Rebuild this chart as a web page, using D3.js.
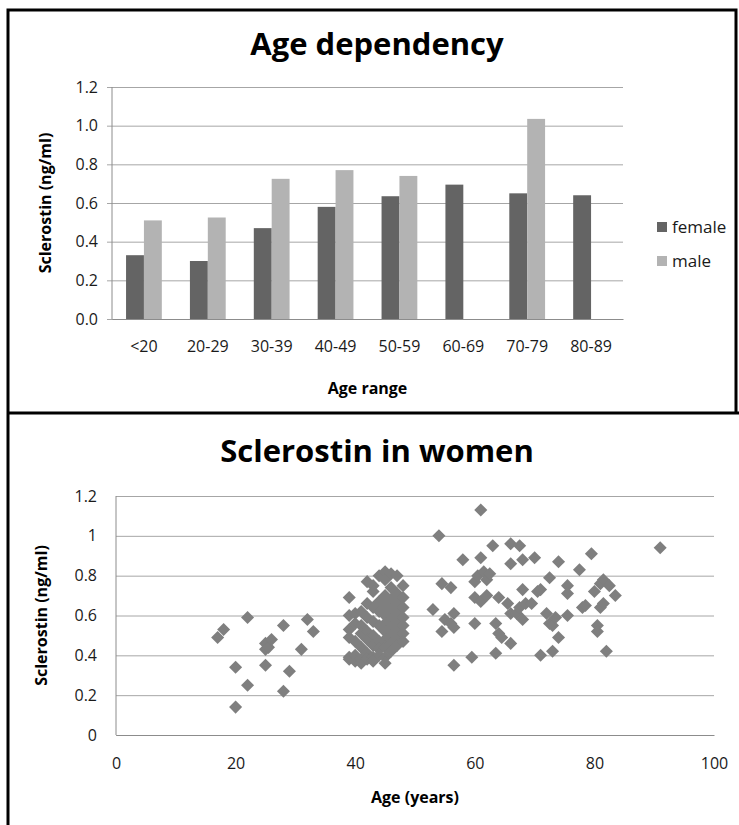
<!DOCTYPE html>
<html>
<head>
<meta charset="utf-8">
<script src="https://cdn.jsdelivr.net/npm/d3@7"></script>
<style>
  body { margin: 0; background: #fff; }
  svg text { font-family: "Open Sans", "DejaVu Sans", sans-serif; }
</style>
</head>
<body>
<svg class="chart" width="739" height="825"></svg>
<script>

/*
* Sclerostin figure: bar chart by age range and scatter for women.
*/

// Bar chart data.
var ageRanges = ["<20", "20-29", "30-39", "40-49", "50-59", "60-69", "70-79", "80-89"];
var femaleValues = [0.33, 0.30, 0.47, 0.58, 0.635, 0.695, 0.65, 0.64];
var maleValues = [0.51, 0.525, 0.725, 0.77, 0.74, null, 1.035, null];
var barTicks = [0, 0.2, 0.4, 0.6, 0.8, 1.0, 1.2];

// Scatter data (women): age in years and sclerostin in ng/ml.
var womenAge = [
  17, 18, 20, 20, 22, 22, 25, 25, 25, 25.5, 26, 28, 28, 29, 31, 32, 33,
  39, 39, 39, 39, 39, 39, 40, 40, 40, 40, 40,
  41, 41, 41, 41, 41, 41, 42, 42, 42, 42, 42, 42, 42,
  43, 43, 43, 43, 43, 43, 43, 43, 44, 44, 44, 44, 44, 44, 44,
  45, 45, 45, 45, 45, 45, 45, 45, 45, 45, 45,
  46, 46, 46, 46, 46, 46, 46, 46, 46, 47, 47, 47, 47, 47, 47, 47, 47,
  48, 48, 48, 48, 48, 48, 48,
  53, 54, 54.5, 54.5, 55, 56, 56, 56.5, 56.5, 56.5, 58, 59.5, 60, 60, 60, 60.5,
  61, 61, 61, 61.5, 62, 62, 62.5, 63, 63.5, 63.5, 64, 64, 64.5, 65.5,
  66, 66, 66, 66, 67, 67.5, 67.5, 68, 68, 68, 68.5, 69.5, 70, 70.5, 71, 71,
  72, 72.5, 72.5, 73, 73, 73.5, 74, 74, 75.5, 75.5, 75.5, 77.5, 78, 78.5,
  79.5, 80, 80.5, 80.5, 81, 81, 81.5, 81.5, 82, 82.5, 83.5, 91
];
var womenSclerostin = [
  0.49, 0.53, 0.34, 0.14, 0.59, 0.25, 0.35, 0.43, 0.46, 0.44, 0.48, 0.55, 0.22, 0.32, 0.43, 0.58, 0.52,
  0.69, 0.60, 0.53, 0.49, 0.39, 0.38, 0.61, 0.56, 0.47, 0.40, 0.37,
  0.62, 0.55, 0.51, 0.44, 0.38, 0.36, 0.77, 0.66, 0.59, 0.52, 0.48, 0.41, 0.38,
  0.75, 0.72, 0.64, 0.57, 0.50, 0.45, 0.39, 0.37, 0.80, 0.67, 0.62, 0.55, 0.47, 0.43, 0.40,
  0.82, 0.78, 0.70, 0.65, 0.60, 0.56, 0.52, 0.48, 0.44, 0.39, 0.36,
  0.81, 0.74, 0.68, 0.63, 0.58, 0.54, 0.50, 0.46, 0.42, 0.80, 0.71, 0.66, 0.61, 0.57, 0.53, 0.49, 0.45,
  0.75, 0.69, 0.64, 0.59, 0.55, 0.51, 0.47,
  0.63, 1.00, 0.76, 0.52, 0.58, 0.74, 0.56, 0.61, 0.54, 0.35, 0.88, 0.39, 0.69, 0.56, 0.77, 0.80,
  1.13, 0.89, 0.67, 0.82, 0.70, 0.78, 0.81, 0.95, 0.56, 0.41, 0.51, 0.69, 0.49, 0.66,
  0.96, 0.86, 0.46, 0.61, 0.61, 0.95, 0.64, 0.88, 0.73, 0.58, 0.66, 0.66, 0.89, 0.72, 0.73, 0.40,
  0.61, 0.79, 0.56, 0.55, 0.42, 0.59, 0.87, 0.49, 0.75, 0.71, 0.60, 0.83, 0.64, 0.65,
  0.91, 0.72, 0.55, 0.52, 0.76, 0.64, 0.78, 0.66, 0.42, 0.75, 0.70, 0.94
];
var scatterXTicks = [0, 20, 40, 60, 80, 100];
var scatterYTicks = [0, 0.2, 0.4, 0.6, 0.8, 1, 1.2];

var svg = d3.select(".chart");

drawBorders();
drawBarchart();
drawScatter();

/*
* Draw the panel frames.
*/
function drawBorders() {
  var frame = svg.append("g")
      .attr("stroke", "#000")
      .attr("stroke-width", 3)
      .attr("fill", "none");

  frame.append("path").attr("d", "M8,825 V10 H736 V413");
  frame.append("path").attr("d", "M8,413 H739");
}

/*
* Draw the grouped bar chart (age dependency).
*/
function drawBarchart() {

  var left = 112, right = 623, top = 87, bottom = 319;

  var x0 = d3.scaleBand()
      .domain(ageRanges)
      .range([left, right])
      .paddingInner(0.44)
      .paddingOuter(0.22);

  var x1 = d3.scaleBand()
      .domain(["female", "male"])
      .range([0, x0.bandwidth()]);

  var y = d3.scaleLinear()
      .domain([0, 1.2])
      .range([bottom, top]);

  var colour = d3.scaleOrdinal()
      .domain(["female", "male"])
      .range(["#646464", "#b3b3b3"]);

  var g = svg.append("g");

  // Gridlines and y labels.
  var yAxis = g.append("g")
      .attr("transform", "translate(" + left + ",0)")
      .call(d3.axisLeft(y)
        .tickValues(barTicks)
        .tickFormat(d3.format(".1f"))
        .tickSize(0)
        .tickPadding(14));
  yAxis.select(".domain").remove();
  yAxis.selectAll(".tick line")
      .attr("x1", -5)
      .attr("x2", right - left)
      .attr("stroke", "#a6a6a6");
  yAxis.selectAll(".tick text")
      .attr("fill", "#1a1a1a")
      .style("font-size", "16px");

  // Y axis line.
  g.append("line")
      .attr("x1", left).attr("x2", left)
      .attr("y1", top).attr("y2", bottom)
      .attr("stroke", "#8c8c8c");

  // Bars.
  var rows = ageRanges.map(function(d, i) {
    return {range: d, values: [
      {key: "female", value: femaleValues[i]},
      {key: "male", value: maleValues[i]}
    ]};
  });

  g.append("g").selectAll("g")
      .data(rows)
      .enter().append("g")
        .attr("transform", function(d) { return "translate(" + x0(d.range) + ",0)"; })
      .selectAll("rect")
      .data(function(d) { return d.values.filter(function(v) { return v.value != null; }); })
      .enter().append("rect")
        .attr("x", function(d) { return x1(d.key); })
        .attr("y", function(d) { return y(d.value); })
        .attr("width", x1.bandwidth())
        .attr("height", function(d) { return bottom - y(d.value); })
        .attr("fill", function(d) { return colour(d.key); });

  // X axis with category labels.
  var xAxis = g.append("g")
      .attr("transform", "translate(0," + bottom + ")")
      .call(d3.axisBottom(x0).tickSize(0).tickPadding(22));
  xAxis.select(".domain")
      .attr("stroke", "#8c8c8c");
  xAxis.selectAll(".tick text")
      .attr("fill", "#1a1a1a")
      .style("font-size", "16px");

  // Titles.
  g.append("text")
      .attr("x", 377)
      .attr("y", 55)
      .attr("text-anchor", "middle")
      .style("font-size", "31px")
      .style("font-weight", "bold")
      .text("Age dependency");

  g.append("text")
      .attr("x", (left + right) / 2)
      .attr("y", 394)
      .attr("text-anchor", "middle")
      .style("font-size", "16px")
      .style("font-weight", "bold")
      .text("Age range");

  g.append("text")
      .attr("transform", "translate(51," + (top + bottom) / 2 + ") rotate(-90)")
      .attr("text-anchor", "middle")
      .style("font-size", "16px")
      .style("font-weight", "bold")
      .text("Sclerostin (ng/ml)");

  // Legend.
  var legend = g.append("g").selectAll("g")
      .data(colour.domain())
      .enter().append("g")
        .attr("transform", function(d, i) { return "translate(657," + (222 + i * 34) + ")"; });
  legend.append("rect")
      .attr("width", 10)
      .attr("height", 10)
      .attr("fill", colour);
  legend.append("text")
      .attr("x", 15)
      .attr("y", 5)
      .attr("dy", "0.35em")
      .attr("fill", "#1a1a1a")
      .style("font-size", "17px")
      .text(function(d) { return d; });
}

/*
* Draw the scatter plot (sclerostin in women).
*/
function drawScatter() {

  var left = 116, right = 714, top = 496, bottom = 735;

  var x = d3.scaleLinear()
      .domain([0, 100])
      .range([left, right]);

  var y = d3.scaleLinear()
      .domain([0, 1.2])
      .range([bottom, top]);

  var g = svg.append("g");

  // Gridlines and y labels.
  var yAxis = g.append("g")
      .attr("transform", "translate(" + left + ",0)")
      .call(d3.axisLeft(y)
        .tickValues(scatterYTicks)
        .tickFormat(function(d) { return String(+d.toFixed(1)); })
        .tickSize(0)
        .tickPadding(19));
  yAxis.select(".domain").remove();
  yAxis.selectAll(".tick line")
      .attr("x2", right - left)
      .attr("stroke", "#a6a6a6");
  yAxis.selectAll(".tick text")
      .attr("fill", "#1a1a1a")
      .style("font-size", "16px");

  g.append("line")
      .attr("x1", left).attr("x2", left)
      .attr("y1", top).attr("y2", bottom)
      .attr("stroke", "#8c8c8c");

  // X axis labels.
  var xAxis = g.append("g")
      .attr("transform", "translate(0," + bottom + ")")
      .call(d3.axisBottom(x).tickValues(scatterXTicks).tickSize(0).tickPadding(23));
  xAxis.select(".domain")
      .attr("stroke", "#8c8c8c");
  xAxis.selectAll(".tick text")
      .attr("fill", "#1a1a1a")
      .style("font-size", "16px");

  // Diamond markers.
  var diamond = d3.symbol().type(d3.symbolSquare).size(85);
  g.append("g").selectAll("path")
      .data(womenAge.map(function(d, i) { return [d, womenSclerostin[i]]; }))
      .enter().append("path")
        .attr("d", diamond)
        .attr("transform", function(d) {
          return "translate(" + x(d[0]) + "," + y(d[1]) + ") rotate(45)";
        })
        .attr("fill", "#7f7f7f");

  // Titles.
  g.append("text")
      .attr("x", 377)
      .attr("y", 462)
      .attr("text-anchor", "middle")
      .style("font-size", "31px")
      .style("font-weight", "bold")
      .text("Sclerostin in women");

  g.append("text")
      .attr("x", (left + right) / 2)
      .attr("y", 803)
      .attr("text-anchor", "middle")
      .style("font-size", "16px")
      .style("font-weight", "bold")
      .text("Age (years)");

  g.append("text")
      .attr("transform", "translate(47," + (top + bottom) / 2 + ") rotate(-90)")
      .attr("text-anchor", "middle")
      .style("font-size", "16px")
      .style("font-weight", "bold")
      .text("Sclerostin (ng/ml)");
}
</script>
</body>
</html>
